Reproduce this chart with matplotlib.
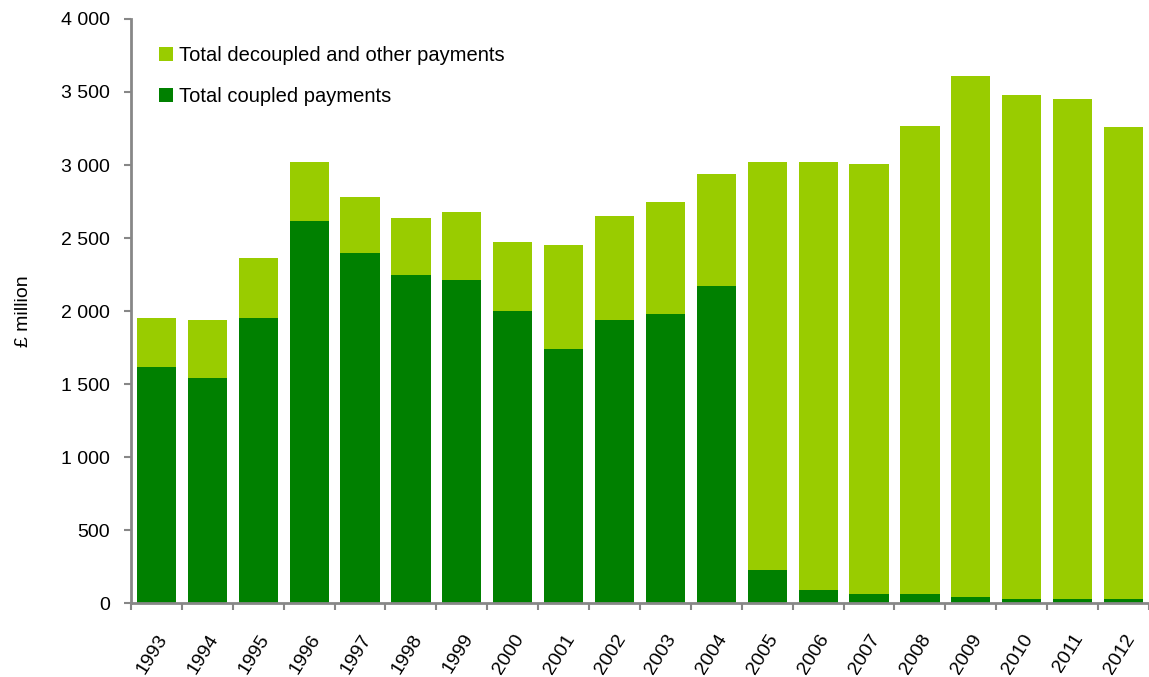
import matplotlib.pyplot as plt
import numpy as np
from matplotlib.ticker import FuncFormatter

plt.rcParams["font.family"] = ["Liberation Sans", "DejaVu Sans"]

years = [str(y) for y in range(1993, 2013)]
coupled = [1620, 1540, 1950, 2620, 2400, 2250, 2210, 2000, 1740, 1940,
           1980, 2170, 225, 87, 60, 60, 45, 30, 30, 30]
totals = [1950, 1940, 2360, 3020, 2780, 2640, 2680, 2470, 2450, 2650,
          2750, 2940, 3020, 3020, 3010, 3270, 3610, 3480, 3450, 3260]
decoupled = [t - c for t, c in zip(totals, coupled)]

dark_green = "#008000"
light_green = "#99CC00"
axis_grey = "#878787"

fig = plt.figure(figsize=(11.49, 6.77), dpi=100)
ax = fig.add_axes([0.114, 0.109, 0.886, 0.863])

x = np.arange(len(years))
ax.bar(x, coupled, width=0.77, color=dark_green, label="Total coupled payments")
ax.bar(x, decoupled, width=0.77, bottom=coupled, color=light_green,
       label="Total decoupled and other payments")

ax.set_xlim(-0.5, len(years) - 0.5)
ax.set_ylim(0, 4000)
ax.set_yticks(np.arange(0, 4001, 500))
ax.yaxis.set_major_formatter(FuncFormatter(lambda v, p: f"{int(v):,}".replace(",", " ")))

# year labels at centres, tick marks between categories
ax.set_xticks(x)
ax.set_xticklabels(years, rotation=58, ha="right", va="top", rotation_mode="anchor")
ax.set_xticks(np.arange(-0.5, len(years), 1), minor=True)
ax.tick_params(axis="x", which="major", length=0, pad=20, labelsize=14)
ax.tick_params(axis="x", which="minor", length=5, color=axis_grey, width=1.5)
ax.tick_params(axis="y", length=5, color=axis_grey, width=1.5, labelsize=14, pad=10)

for side in ["top", "right"]:
    ax.spines[side].set_visible(False)
for side in ["left", "bottom"]:
    ax.spines[side].set_color(axis_grey)
    ax.spines[side].set_linewidth(2)

ax.set_ylabel("£ million", fontsize=14, labelpad=21)

handles, labels = ax.get_legend_handles_labels()
ax.legend(handles[::-1], labels[::-1], loc="upper left", bbox_to_anchor=(0.01, 0.985),
          frameon=False, fontsize=14.5, handlelength=0.7, handleheight=0.7,
          handletextpad=0.3, labelspacing=1.1)

fig.savefig("out.png", dpi=100)
